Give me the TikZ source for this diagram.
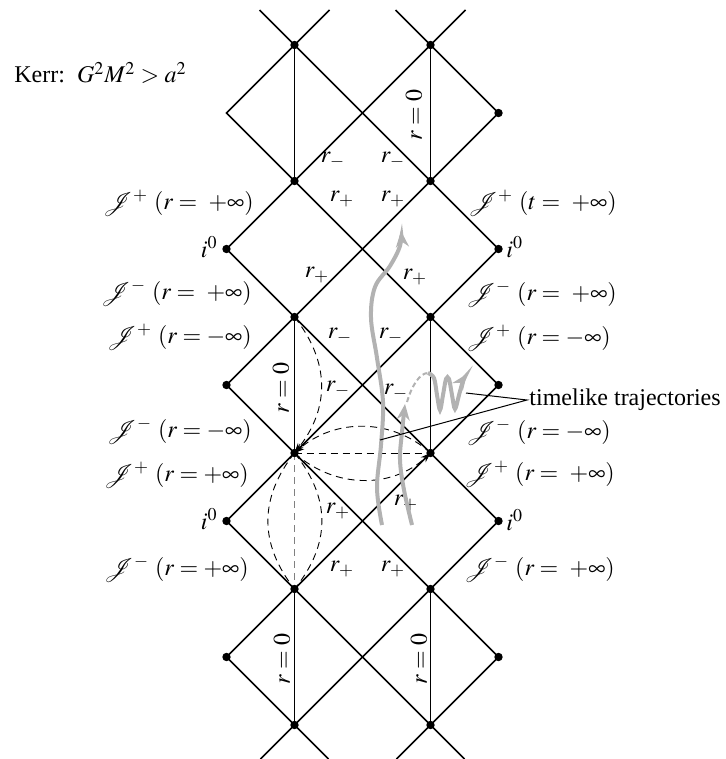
\documentclass[tikz,border=0pt]{standalone}
\usepackage{mathptmx}
\usepackage{fontspec}
\setmainfont{Liberation Serif}
\usetikzlibrary{arrows.meta}
\begin{document}
\begin{tikzpicture}[x=0.5pt,y=-0.5pt,
  lat/.style={line width=0.75pt},
  vline/.style={line width=0.5pt},
  dot/.style={circle,fill=black,inner sep=0pt,minimum size=4.2pt},
  lab/.style={font=\fontsize{12}{14}\selectfont,inner sep=1pt},
  dsh/.style={line width=0.45pt,dash pattern=on 3.5pt off 2.5pt},
  dtip/.style={-{Stealth[length=5pt,width=3.5pt]}},
  traj/.style={draw=gray!60,line width=2pt},
  ttip/.style={-{Stealth[length=8pt,width=6.5pt,fill=gray!60]}},
  pointer/.style={line width=0.5pt}
]
\useasboundingbox (0,0) rectangle (725,759);
% lattice coordinates
\foreach \k in {0,...,5}{
  \coordinate (a\k) at (294.5,{45+136*\k});
  \coordinate (b\k) at (430.5,{45+136*\k});
}
\foreach \k in {1,...,5}{
  \coordinate (l\k) at (226.5,{-23+136*\k});
  \coordinate (r\k) at (498.5,{-23+136*\k});
}
% top and bottom free ends
\coordinate (ta1) at (259.5,10); \coordinate (ta2) at (329.5,10);
\coordinate (tb1) at (395.5,10); \coordinate (tb2) at (465.5,10);
\coordinate (ba1) at (260.5,759); \coordinate (ba2) at (328.5,759);
\coordinate (bb1) at (396.5,759); \coordinate (bb2) at (464.5,759);
\draw[lat] (ta1) -- (a0) -- (ta2);
\draw[lat] (tb1) -- (b0) -- (tb2);
\draw[lat] (ba1) -- (a5) -- (ba2);
\draw[lat] (bb1) -- (b5) -- (bb2);
% bands
\foreach \k in {1,...,5}{
  \pgfmathtruncatemacro\j{\k-1}
  \draw[lat] (a\j) -- (l\k) -- (a\k);
  \draw[lat] (b\j) -- (r\k) -- (b\k);
  \draw[lat] (a\j) -- (b\k);
  \draw[lat] (b\j) -- (a\k);
}
% vertical lines
\draw[vline] (a0) -- (a1);
\draw[vline] (b0) -- (b1);
\draw[lat] (a2) -- (a3);
\draw[lat] (b2) -- (b3);
\draw[vline] (a4) -- (a5);
\draw[vline] (b4) -- (b5);
\draw[dsh,gray,line width=0.6pt] (a3) -- (a4);
% dashed curves
\draw[dsh,dtip] (a2) .. controls (330,362) and (330,408) .. (a3);
\draw[dsh,dtip] (b3) .. controls (392,418) and (335,418) .. (a3);
\draw[dsh] (a3) -- (b3);
\draw[dsh,dtip] (a3) .. controls (335,489) and (392,489) .. (b3);
\draw[dsh] (a3) .. controls (259,498) and (259,544) .. (a4);
\draw[dsh] (a3) .. controls (331,498) and (331,544) .. (a4);
% dots
\foreach \p in {a0,a1,a2,a3,a4,a5,b0,b1,b2,b3,b4,b5,r1,l2,r2,l3,r3,l4,r4,l5,r5}{
  \node[dot] (d\p) at (\p) {};
}
% r labels
\node[lab] (m1) at (333,160) {$r_-$};
\node[lab] (m2) at (393,160) {$r_-$};
\node[lab,rotate=90] (z1) at (414,115) {$r=0$};
\node[lab] (p1) at (342,199) {$r_+$};
\node[lab] (p2) at (393,199) {$r_+$};
\node[lab] (p3) at (317,275) {$r_+$};
\node[lab] (p4) at (415,277) {$r_+$};
\node[lab] (m3) at (340,336) {$r_-$};
\node[lab] (m4) at (391,336) {$r_-$};
\node[lab] (m5) at (338,389) {$r_-$};
\node[lab] (m6) at (396,392) {$r_-$};
\node[lab,rotate=90] (z2) at (281,388) {$r=0$};
\node[lab] (p5) at (338,511) {$r_+$};
\node[lab] (p6) at (406,503) {$r_+$};
\node[lab] (p7) at (342,569) {$r_+$};
\node[lab] (p8) at (393,569) {$r_+$};
\node[lab,rotate=90] (z3) at (282,659) {$r=0$};
\node[lab,rotate=90] (z4) at (419,659) {$r=0$};
% left labels
\node[lab,anchor=east] (L1) at (256,203) {$\mathcal{J}^+\ (r=\ +\infty)$};
\node[lab,anchor=east] (L2) at (254,293) {$\mathcal{J}^-\ (r=\ +\infty)$};
\node[lab,anchor=east] (L3) at (254,337) {$\mathcal{J}^+\ (r=-\infty)$};
\node[lab,anchor=east] (L4) at (254,431) {$\mathcal{J}^-\ (r=-\infty)$};
\node[lab,anchor=east] (L5) at (251,475) {$\mathcal{J}^+\ (r=+\infty)$};
\node[lab,anchor=east] (L6) at (251,569) {$\mathcal{J}^-\ (r=+\infty)$};
\node[lab,anchor=east] (I1) at (220,247) {$i^0$};
\node[lab,anchor=east] (I2) at (220,519) {$i^0$};
% right labels
\node[lab,anchor=west] (R1) at (466,203) {$\mathcal{J}^+\ (t=\ +\infty)$};
\node[lab,anchor=west] (R2) at (464,294) {$\mathcal{J}^-\ (r=\ +\infty)$};
\node[lab,anchor=west] (R3) at (464,338) {$\mathcal{J}^+\ (r=-\infty)$};
\node[lab,anchor=west] (R4) at (464,432) {$\mathcal{J}^-\ (r=-\infty)$};
\node[lab,anchor=west] (R5) at (462,474) {$\mathcal{J}^+\ (r=\ +\infty)$};
\node[lab,anchor=west] (R6) at (462,569) {$\mathcal{J}^-\ (r=\ +\infty)$};
\node[lab,anchor=west] (I3) at (504,247) {$i^0$};
\node[lab,anchor=west] (I4) at (504,520) {$i^0$};
% title
\node[lab,anchor=west] (kerr) at (12,73) {Kerr:\ \ $G^2M^2>a^2$};
% trajectories
\draw[traj,ttip] plot[smooth,tension=0.6] coordinates {(382,525) (377,488) (381,445) (383,402) (377,358) (371,318) (375,287) (390,266) (400,246) (401,231)};
\draw[traj,ttip] plot[smooth,tension=0.6] coordinates {(412,525) (404,490) (400,460) (402,432) (405,404)};
\draw[draw=gray!60,line width=1pt,dash pattern=on 2.5pt off 1.5pt] (407,402) .. controls (412,385) and (420,373) .. (428,373);
\draw[traj,ttip] plot[smooth,tension=0.55] coordinates {(428,373) (434,378) (437,395) (440,410) (443,395) (446,379) (449,379) (452,395) (455,409) (459,395) (463,381) (467,374)};
% pointer label
\node[lab,anchor=west] (tl) at (527,400) {timelike trajectories};
\coordinate (e1) at (466,393);
\coordinate (e2) at (380,440);
\draw[pointer] (e1) -- (tl.west) -- (e2);
\end{tikzpicture}
\end{document}
